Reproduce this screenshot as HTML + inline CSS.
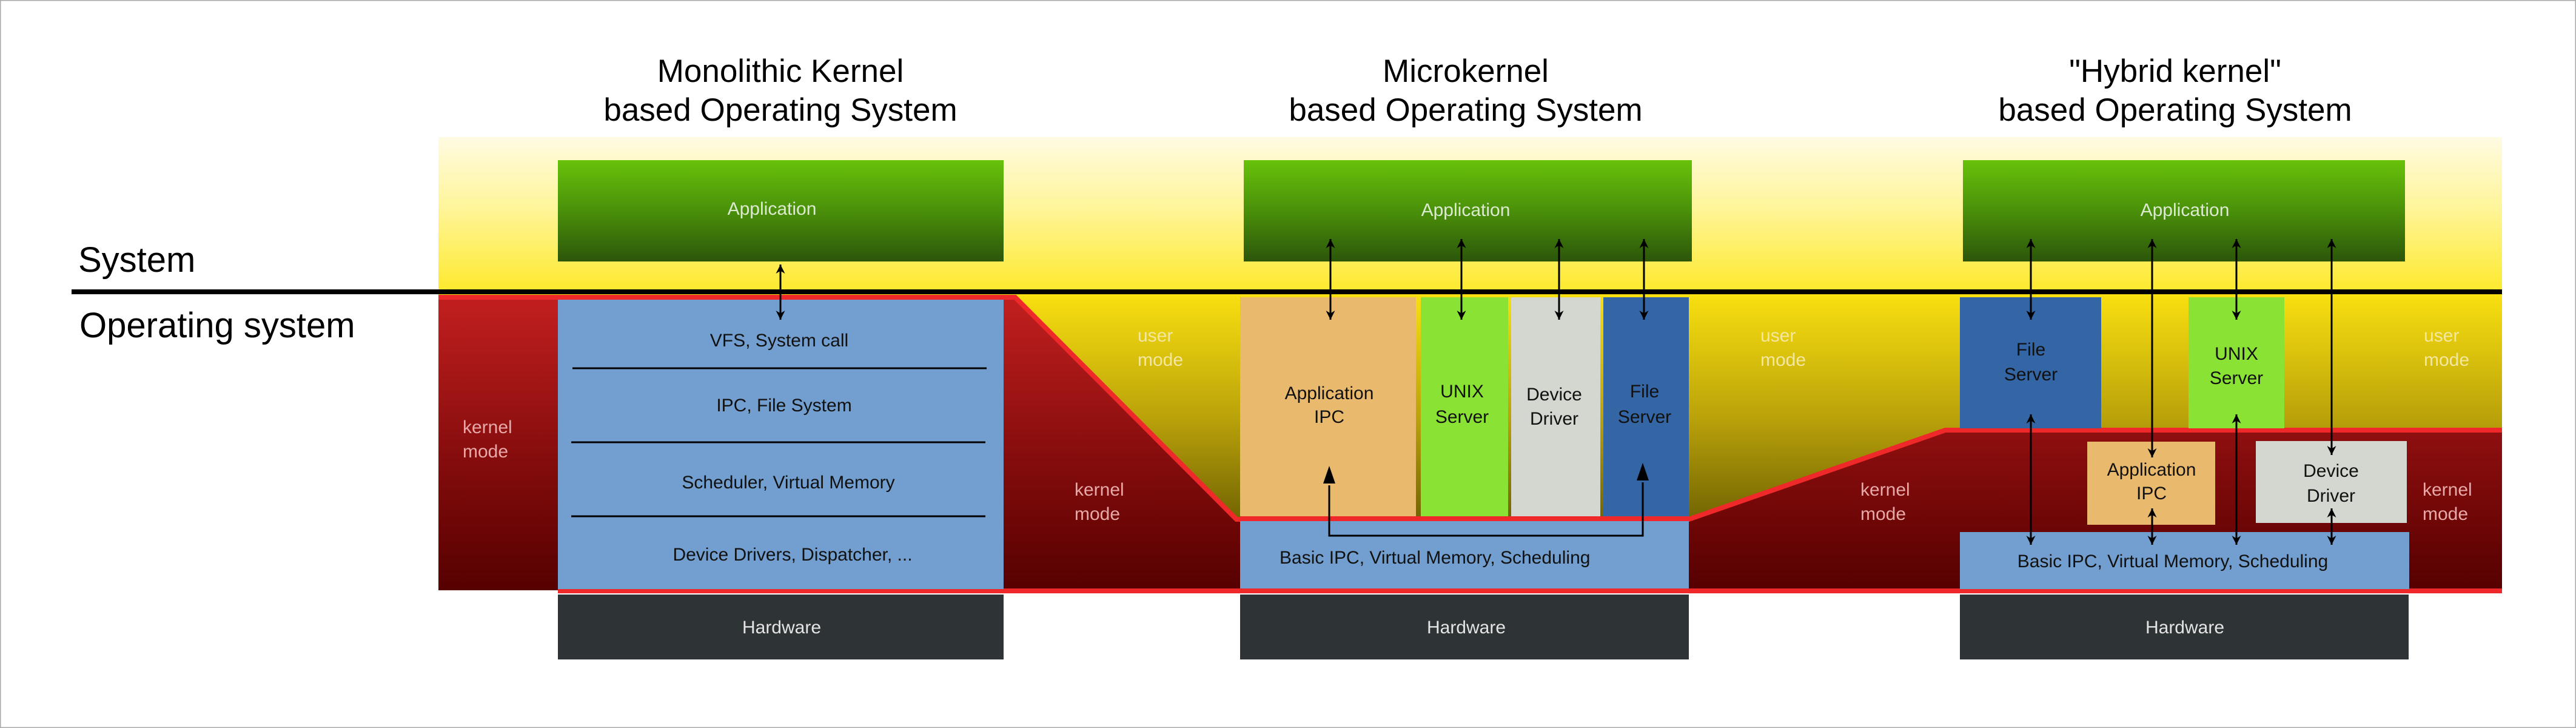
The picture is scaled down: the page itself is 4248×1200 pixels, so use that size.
<!DOCTYPE html>
<html><head><meta charset="utf-8"><style>
html,body{margin:0;padding:0;background:#fff}
svg{display:block}
text{font-family:"Liberation Sans",sans-serif}
</style></head><body>
<svg width="4248" height="1200" viewBox="0 0 4248 1200" xmlns="http://www.w3.org/2000/svg">
<defs>
<linearGradient id="gTop" x1="0" y1="0" x2="0" y2="1"><stop offset="0" stop-color="#fffbe2"/><stop offset="0.45" stop-color="#fff59a"/><stop offset="1" stop-color="#fde92a"/></linearGradient>
<linearGradient id="gUser" gradientUnits="userSpaceOnUse" x1="0" y1="484" x2="0" y2="900"><stop offset="0" stop-color="#f9e010"/><stop offset="0.5" stop-color="#b9a10a"/><stop offset="1" stop-color="#5f5500"/></linearGradient>
<linearGradient id="gRed" gradientUnits="userSpaceOnUse" x1="0" y1="490" x2="0" y2="973"><stop offset="0" stop-color="#c21f1f"/><stop offset="0.6" stop-color="#800b0b"/><stop offset="1" stop-color="#560000"/></linearGradient>
<linearGradient id="gApp" x1="0" y1="0" x2="0" y2="1"><stop offset="0" stop-color="#68c20a"/><stop offset="0.5" stop-color="#4a900a"/><stop offset="1" stop-color="#2c560a"/></linearGradient>
<marker id="ah" viewBox="0 0 10 10" refX="10" refY="5" markerWidth="5" markerHeight="5" orient="auto-start-reverse"><path d="M0,0 L10,5 L0,10 L3,5 z" fill="#000"/></marker>
</defs>
<rect x="0.5" y="0.5" width="4247" height="1199" fill="#fff" stroke="#aaa" stroke-width="2"/>

<rect x="723" y="226" width="3403" height="258" fill="url(#gTop)"/>
<rect x="723" y="484" width="3403" height="412" fill="url(#gUser)"/>
<polygon points="723,490 1674,490 2039,856 2785,856 3208,709 4126,709 4126,973 723,973" fill="url(#gRed)"/>
<polyline points="723,490 1674,490 2039,856 2785,856 3208,709 4126,709" fill="none" stroke="#ef2929" stroke-width="8"/>
<line x1="920" y1="974" x2="4126" y2="974" stroke="#ef2929" stroke-width="8"/>

<line x1="118" y1="481" x2="4126" y2="481" stroke="#000" stroke-width="8"/>
<text x="129" y="448" font-size="58" fill="#000">System</text>
<text x="131" y="556" font-size="58" fill="#000">Operating system</text>

<g font-size="53" fill="#000" text-anchor="middle">
<text x="1287" y="135">Monolithic Kernel</text><text x="1287" y="199">based Operating System</text>
<text x="2417" y="135">Microkernel</text><text x="2417" y="199">based Operating System</text>
<text x="3587" y="135">"Hybrid kernel"</text><text x="3587" y="199">based Operating System</text>
</g>

<rect x="920" y="264" width="735" height="167" fill="url(#gApp)"/>
<rect x="2051" y="264" width="739" height="167" fill="url(#gApp)"/>
<rect x="3237" y="264" width="729" height="167" fill="url(#gApp)"/>
<g font-size="30" fill="#dcebcf" text-anchor="middle">
<text x="1273" y="354">Application</text><text x="2417" y="356">Application</text><text x="3603" y="356">Application</text>
</g>

<rect x="920" y="494" width="735" height="477" fill="#729fcf"/>
<g stroke="#000" stroke-width="3"><line x1="944" y1="607" x2="1627" y2="607"/><line x1="942" y1="729" x2="1625" y2="729"/><line x1="942" y1="851" x2="1625" y2="851"/></g>
<g font-size="30" fill="#111" text-anchor="middle">
<text x="1285" y="571">VFS, System call</text>
<text x="1293" y="678">IPC, File System</text>
<text x="1300" y="805">Scheduler, Virtual Memory</text>
<text x="1307" y="924">Device Drivers, Dispatcher, ...</text>
</g>

<rect x="2045" y="490" width="290" height="362" fill="#e9b96e"/>
<rect x="2343" y="490" width="144" height="362" fill="#8ae234"/>
<rect x="2492" y="490" width="147" height="362" fill="#d3d7cf"/>
<rect x="2644" y="490" width="141" height="362" fill="#3465a4"/>
<line x1="2045" y1="855" x2="2785" y2="855" stroke="#ef2929" stroke-width="8"/>
<rect x="2045" y="859" width="740" height="111" fill="#729fcf"/>
<g font-size="30" fill="#111" text-anchor="middle">
<text x="2192" y="658">Application</text><text x="2192" y="697">IPC</text>
<text x="2411" y="655">UNIX</text><text x="2411" y="697">Server</text>
<text x="2563" y="660">Device</text><text x="2563" y="700">Driver</text>
<text x="2712" y="655">File</text><text x="2712" y="697">Server</text>
<text x="2110" y="929" text-anchor="start">Basic IPC, Virtual Memory, Scheduling</text>
</g>
<polyline points="2192,800 2192,883 2709,883 2709,795" fill="none" stroke="#000" stroke-width="3"/>
<path d="M2182,797 L2192,768 L2202,797 z" fill="#000"/>
<path d="M2699,792 L2709,763 L2719,792 z" fill="#000"/>

<rect x="3232" y="490" width="233" height="216" fill="#3465a4"/>
<rect x="3609" y="490" width="158" height="216" fill="#8ae234"/>
<rect x="3442" y="728" width="211" height="137" fill="#e9b96e"/>
<rect x="3720" y="727" width="249" height="135" fill="#d3d7cf"/>
<rect x="3232" y="877" width="741" height="94" fill="#729fcf"/>
<g font-size="30" fill="#111" text-anchor="middle">
<text x="3349" y="586">File</text><text x="3349" y="627">Server</text>
<text x="3688" y="593">UNIX</text><text x="3688" y="633">Server</text>
<text x="3548" y="784">Application</text><text x="3548" y="823">IPC</text>
<text x="3844" y="786">Device</text><text x="3844" y="827">Driver</text>
<text x="3583" y="935">Basic IPC, Virtual Memory, Scheduling</text>
</g>

<rect x="920" y="980" width="735" height="107" fill="#2e3436"/>
<rect x="2045" y="980" width="740" height="107" fill="#2e3436"/>
<rect x="3232" y="980" width="740" height="107" fill="#2e3436"/>
<g font-size="30" fill="#e4e4e4" text-anchor="middle">
<text x="1289" y="1044">Hardware</text><text x="2418" y="1044">Hardware</text><text x="3603" y="1044">Hardware</text>
</g>

<g font-size="30" fill="#e8a8a8">
<text x="763" y="714">kernel</text><text x="763" y="754">mode</text>
<text x="1772" y="817">kernel</text><text x="1772" y="857">mode</text>
<text x="3068" y="817">kernel</text><text x="3068" y="857">mode</text>
<text x="3995" y="817">kernel</text><text x="3995" y="857">mode</text>
</g>
<g font-size="30" fill="#f3e7a0">
<text x="1876" y="563">user</text><text x="1876" y="603">mode</text>
<text x="2903" y="563">user</text><text x="2903" y="603">mode</text>
<text x="3997" y="563">user</text><text x="3997" y="603">mode</text>
</g>

<g stroke="#000" stroke-width="3" marker-start="url(#ah)" marker-end="url(#ah)">
<line x1="1287" y1="436" x2="1287" y2="527"/>
<line x1="2194" y1="394" x2="2194" y2="527"/>
<line x1="2410" y1="394" x2="2410" y2="527"/>
<line x1="2571" y1="394" x2="2571" y2="527"/>
<line x1="2711" y1="394" x2="2711" y2="527"/>
<line x1="3349" y1="394" x2="3349" y2="527"/>
<line x1="3688" y1="394" x2="3688" y2="527"/>
<line x1="3549" y1="394" x2="3549" y2="754"/>
<line x1="3845" y1="394" x2="3845" y2="750"/>
<line x1="3349" y1="683" x2="3349" y2="898"/>
<line x1="3688" y1="683" x2="3688" y2="898"/>
<line x1="3549" y1="838" x2="3549" y2="898"/>
<line x1="3845" y1="838" x2="3845" y2="898"/>
</g>
</svg>
</body></html>
